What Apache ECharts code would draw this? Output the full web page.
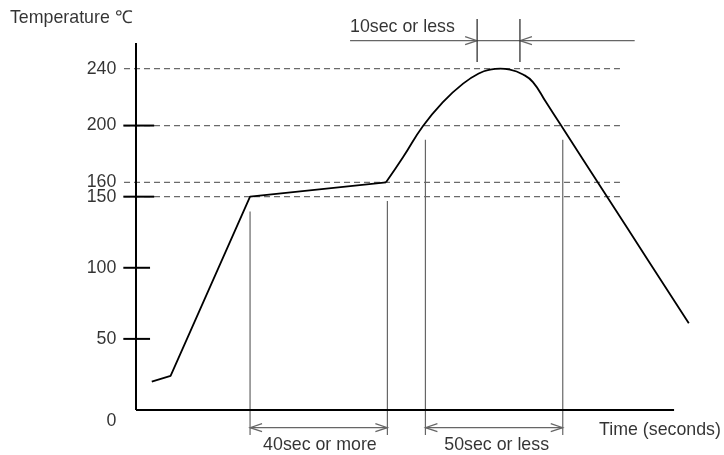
<!DOCTYPE html>
<html>
<head>
<meta charset="utf-8">
<script src="https://cdn.jsdelivr.net/npm/echarts@6/dist/echarts.min.js"></script>
<style>
html,body{margin:0;padding:0;background:#fff;}
#chart{width:724px;height:455px;}
</style>
</head>
<body>
<div id="chart"></div>
<script>
// ---- data (time in s, temperature in °C) ----
const profileRamp = [[4.6, 20], [10.1, 24], [33.3, 150], [73.0, 160]];
const profilePeak = [[73.0, 160.1], [78.0, 177.9], [83.8, 199.7], [89.6, 216.5], [95.5, 229.5],
  [100.4, 237.0], [103.4, 239.3], [106.3, 240.0], [109.2, 239.3], [113.0, 235.9], [115.9, 230.5],
  [119.7, 216.5], [123.8, 201.2], [137.4, 150.5], [149.4, 105.7], [161.4, 61.0]];
const yTickValues = [0, 50, 100, 150, 160, 200, 240];
const yTickLabels = ['0', '50', '100', '150', '160', '200', '240'];
const majorTicks = [200, 150, 100, 50];
const majorTickRight = [5.3, 5.3, 4.1, 4.1];
const guideTemps = [240, 200, 160, 150];
const xAxisEnd = 157.1;
const yAxisTop = 258;
const soakMarks = [33.3, 73.4];      // 40sec or more
const soakTops = [139.5, 147];
const reflowMarks = [84.5, 124.6];   // 50sec or less
const reflowTops = [190, 190];
const peakMarks = [99.6, 112.1];     // 10sec or less
const peakArrowFrom = 62.5, peakArrowTo = 145.6;
const dimBottom = -17.6, dimY = -12.4, peakDimY = 259.7, peakMarkTop = 275, peakMarkBottom = 244.7;
const texts = [
  {t: -36.8, v: 275.6, text: 'Temperature ℃', align: 'left'},
  {t: 62.5, v: 269.3, text: '10sec or less', align: 'left'},
  {t: 53.7, v: -24.6, text: '40sec or more', align: 'center'},
  {t: 105.3, v: -24.6, text: '50sec or less', align: 'center'},
  {t: 135.2, v: -14.1, text: 'Time (seconds)', align: 'left'}
];

// ---- scale setup ----
const PX_PER_S = 3.425, PX_PER_C = 1.4222;
const X_MIN = -136 / PX_PER_S, X_MAX = 588 / PX_PER_S;
const Y_MIN = -45 / PX_PER_C, Y_MAX = 410 / PX_PER_C;
const AH_L = 12 / PX_PER_S, AH_W = 4 / PX_PER_C; // arrowhead size
const FONT = 'Liberation Sans, Arial, Helvetica, sans-serif';
const FS = 17.8;

function seg(a, b) { return {coords: [a, b]}; }
function arrowHead(tip, y, dir) { // dir -1 points left, +1 points right
  return {coords: [[tip - dir * AH_L, y + AH_W], [tip, y], [tip - dir * AH_L, y - AH_W]]};
}

const guideLines = guideTemps.map(v => seg([-3.5, v], [141.3, v]));
const axisLines = [seg([0, 0], [xAxisEnd, 0]), seg([0, 0], [0, yAxisTop])]
  .concat(majorTicks.map((v, i) => seg([-3.7, v], [majorTickRight[i], v])));

const annot = [];
soakMarks.forEach((t, i) => annot.push(seg([t, soakTops[i]], [t, dimBottom])));
reflowMarks.forEach((t, i) => annot.push(seg([t, reflowTops[i]], [t, dimBottom])));
[soakMarks, reflowMarks].forEach(m => {
  annot.push(seg([m[0], dimY], [m[1], dimY]));
  annot.push(arrowHead(m[0], dimY, -1));
  annot.push(arrowHead(m[1], dimY, 1));
});
annot.push(seg([peakArrowFrom, peakDimY], [peakArrowTo, peakDimY]));
annot.push(arrowHead(peakMarks[0], peakDimY, 1));
annot.push(arrowHead(peakMarks[1], peakDimY, -1));
const peakVerticals = peakMarks.map(t => seg([t, peakMarkTop], [t, peakMarkBottom]));

const option = {
  animation: false,
  backgroundColor: '#fff',
  grid: {left: 0, right: 0, top: 0, bottom: 0},
  xAxis: {type: 'value', min: X_MIN, max: X_MAX, show: false},
  yAxis: {type: 'value', min: Y_MIN, max: Y_MAX, show: false},
  series: [
    {type: 'lines', coordinateSystem: 'cartesian2d', polyline: true, silent: true,
     lineStyle: {color: '#6a6a6a', width: 1.3, type: [6, 4], opacity: 1}, data: guideLines, z: 1},
    {type: 'lines', coordinateSystem: 'cartesian2d', polyline: true, silent: true,
     lineStyle: {color: '#666', width: 1.2, opacity: 1}, data: annot, z: 2},
    {type: 'lines', coordinateSystem: 'cartesian2d', polyline: true, silent: true,
     lineStyle: {color: '#333', width: 1.3, opacity: 1}, data: peakVerticals, z: 2},
    {type: 'lines', coordinateSystem: 'cartesian2d', polyline: true, silent: true,
     lineStyle: {color: '#000', width: 2, opacity: 1}, data: axisLines, z: 3},
    {type: 'line', data: profileRamp, showSymbol: false, symbol: 'none',
     lineStyle: {color: '#000', width: 1.8}, z: 4},
    {type: 'line', data: profilePeak, showSymbol: false, symbol: 'none', smooth: 0.5,
     lineStyle: {color: '#000', width: 1.8}, z: 4},
    {type: 'scatter', symbolSize: 0, silent: true, z: 5,
     data: yTickValues.map((v, i) => ({value: [-3.7, v], name: yTickLabels[i],
       label: v === 0 ? {offset: [0, 11]} : undefined})),
     label: {show: true, position: 'left', distance: 7, formatter: '{b}',
       color: '#000', fontFamily: FONT, fontSize: FS}},
    {type: 'scatter', symbolSize: 0, silent: true, z: 5,
     data: texts.map(d => ({value: [d.t, d.v], name: d.text,
       label: {align: d.align}})),
     label: {show: true, position: 'inside', formatter: '{b}', verticalAlign: 'middle',
       color: '#000', fontFamily: FONT, fontSize: FS}}
  ]
};
const chart = echarts.init(document.getElementById('chart'), null, {renderer: 'canvas'});
chart.setOption(option);
</script>
</body>
</html>
